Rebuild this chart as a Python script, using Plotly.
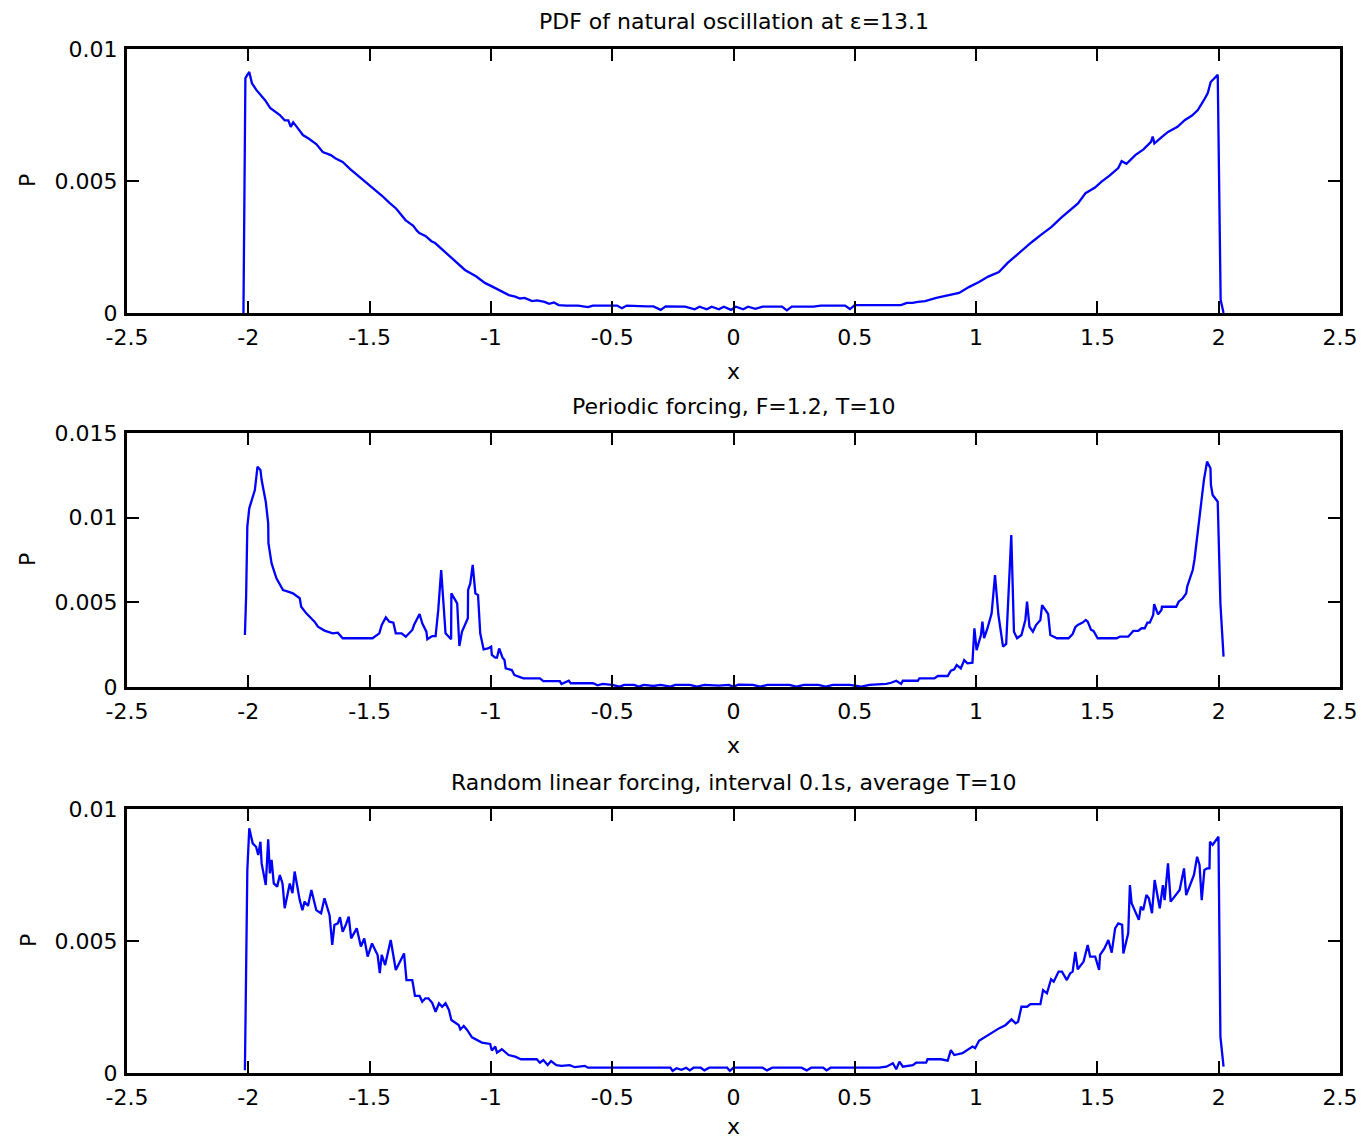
import plotly.graph_objects as go

# ---------------- data (x, P) ----------------
natural_pdf = [
    (-2.020, 0.0), (-2.012, 0.0089), (-1.996, 0.00913), (-1.985, 0.0087), (-1.967, 0.00845),
    (-1.950, 0.00828), (-1.930, 0.00805), (-1.910, 0.00777), (-1.890, 0.00762), (-1.870, 0.0075),
    (-1.850, 0.0073), (-1.835, 0.0073), (-1.825, 0.00705), (-1.815, 0.00722), (-1.800, 0.00705),
    (-1.775, 0.00674), (-1.750, 0.0066), (-1.720, 0.0064), (-1.693, 0.0061), (-1.660, 0.00598),
    (-1.640, 0.00585), (-1.611, 0.00572), (-1.580, 0.00545), (-1.541, 0.00515), (-1.510, 0.00492),
    (-1.488, 0.00473), (-1.450, 0.00445), (-1.418, 0.00417), (-1.390, 0.00395), (-1.352, 0.00352),
    (-1.320, 0.0033), (-1.305, 0.00312), (-1.295, 0.00303), (-1.270, 0.00292), (-1.245, 0.00272),
    (-1.230, 0.00265), (-1.200, 0.0024), (-1.160, 0.00208), (-1.130, 0.00185), (-1.107, 0.00163),
    (-1.060, 0.00138), (-1.025, 0.00114), (-0.990, 0.00098), (-0.960, 0.00085), (-0.926, 0.00068),
    (-0.900, 0.00062), (-0.880, 0.00055), (-0.861, 0.00057), (-0.830, 0.00045), (-0.810, 0.00048),
    (-0.779, 0.00042), (-0.760, 0.00035), (-0.740, 0.0004), (-0.721, 0.0003), (-0.690, 0.00028),
    (-0.640, 0.00028), (-0.600, 0.00022), (-0.580, 0.00028), (-0.520, 0.00028), (-0.480, 0.00028),
    (-0.460, 0.00018), (-0.440, 0.00028), (-0.360, 0.00025), (-0.330, 0.00025), (-0.300, 0.00012),
    (-0.280, 0.00025), (-0.200, 0.00024), (-0.160, 0.00014), (-0.140, 0.00024), (-0.110, 0.00014),
    (-0.090, 0.00024), (-0.060, 0.00014), (-0.040, 0.00024), (-0.010, 0.00012), (0.010, 0.00024),
    (0.040, 0.00014), (0.060, 0.00024), (0.090, 0.00016), (0.120, 0.00024), (0.200, 0.00024),
    (0.220, 0.0001), (0.240, 0.00024), (0.330, 0.00024), (0.360, 0.00028), (0.460, 0.00028),
    (0.480, 0.00015), (0.500, 0.0003), (0.600, 0.0003), (0.650, 0.0003), (0.690, 0.0003),
    (0.715, 0.00038), (0.738, 0.00038), (0.760, 0.00042), (0.790, 0.00045), (0.836, 0.00057),
    (0.880, 0.00065), (0.930, 0.00076), (0.970, 0.00098), (1.012, 0.00117), (1.050, 0.00138),
    (1.094, 0.00155), (1.130, 0.0019), (1.176, 0.00227), (1.200, 0.00245), (1.230, 0.00269),
    (1.270, 0.00298), (1.311, 0.00326), (1.350, 0.0036), (1.381, 0.00383), (1.420, 0.00415),
    (1.451, 0.00454), (1.490, 0.00475), (1.516, 0.00497), (1.550, 0.0052), (1.586, 0.00549),
    (1.600, 0.00575), (1.620, 0.00565), (1.656, 0.00598), (1.690, 0.0062), (1.721, 0.00648),
    (1.728, 0.00668), (1.735, 0.00642), (1.760, 0.00662), (1.791, 0.00686), (1.830, 0.00705),
    (1.861, 0.00731), (1.890, 0.00748), (1.914, 0.00769), (1.940, 0.00808), (1.955, 0.00833),
    (1.967, 0.00875), (1.996, 0.00902), (2.008, 0.0005), (2.020, 0.0),
]

periodic_pdf = [
    (-2.014, 0.00307), (-2.009, 0.00533), (-2.004, 0.00947), (-1.996, 0.01055), (-1.973, 0.01163),
    (-1.962, 0.01301), (-1.950, 0.01282), (-1.945, 0.01222), (-1.928, 0.01094), (-1.918, 0.00967),
    (-1.917, 0.00849), (-1.904, 0.0073), (-1.884, 0.00642), (-1.857, 0.00573), (-1.836, 0.00563),
    (-1.816, 0.00553), (-1.788, 0.00524), (-1.782, 0.00474), (-1.761, 0.00435), (-1.727, 0.00386),
    (-1.713, 0.00356), (-1.686, 0.00333), (-1.652, 0.00317), (-1.631, 0.00321), (-1.611, 0.00288),
    (-1.488, 0.00288), (-1.460, 0.00317), (-1.450, 0.00366), (-1.433, 0.00411), (-1.419, 0.00386),
    (-1.402, 0.0038), (-1.392, 0.00317), (-1.368, 0.00317), (-1.351, 0.00297), (-1.324, 0.00337),
    (-1.317, 0.00366), (-1.294, 0.00431), (-1.283, 0.00376), (-1.266, 0.00327), (-1.262, 0.00282),
    (-1.242, 0.00301), (-1.228, 0.00301), (-1.217, 0.00455), (-1.205, 0.00691), (-1.187, 0.00317),
    (-1.164, 0.00282), (-1.163, 0.00553), (-1.139, 0.00494), (-1.130, 0.00242), (-1.119, 0.00327),
    (-1.095, 0.00406), (-1.094, 0.00573), (-1.085, 0.00612), (-1.075, 0.00721), (-1.064, 0.00553),
    (-1.053, 0.00543), (-1.044, 0.00317), (-1.030, 0.00222), (-1.012, 0.00228), (-0.999, 0.00238),
    (-0.996, 0.00189), (-0.982, 0.00173), (-0.975, 0.00173), (-0.966, 0.00228), (-0.952, 0.00173),
    (-0.944, 0.00159), (-0.939, 0.0011), (-0.914, 0.001), (-0.903, 0.00071), (-0.866, 0.00051),
    (-0.798, 0.00051), (-0.784, 0.00035), (-0.716, 0.00035), (-0.709, 0.00018), (-0.679, 0.00037),
    (-0.671, 0.00022), (-0.579, 0.00022), (-0.560, 0.0001), (-0.540, 0.00018), (-0.500, 0.00012),
    (-0.470, 0.00002), (-0.450, 0.00012), (-0.410, 0.00012), (-0.390, 0.00002), (-0.370, 0.00012),
    (-0.330, 0.00006), (-0.300, 0.00012), (-0.260, 0.00002), (-0.240, 0.00012), (-0.180, 0.00012),
    (-0.150, 0.00002), (-0.120, 0.00012), (-0.060, 0.00008), (-0.020, 0.00012), (0.000, 0.00002),
    (0.020, 0.00014), (0.080, 0.00012), (0.110, 0.00002), (0.140, 0.00012), (0.200, 0.0001),
    (0.230, 0.00012), (0.260, 0.00002), (0.290, 0.00012), (0.350, 0.00012), (0.380, 0.00002),
    (0.410, 0.00012), (0.480, 0.00012), (0.527, 0.00002), (0.560, 0.00012), (0.630, 0.00018),
    (0.650, 0.00025), (0.671, 0.00037), (0.691, 0.00018), (0.698, 0.00037), (0.760, 0.00037),
    (0.766, 0.00051), (0.828, 0.00051), (0.842, 0.00065), (0.883, 0.00065), (0.896, 0.00096),
    (0.910, 0.00104), (0.920, 0.0013), (0.937, 0.0011), (0.951, 0.00159), (0.964, 0.0014),
    (0.985, 0.00144), (0.993, 0.00347), (1.002, 0.00218), (1.020, 0.00307), (1.026, 0.00386),
    (1.033, 0.00288), (1.047, 0.00347), (1.064, 0.00435), (1.078, 0.00661), (1.092, 0.00425),
    (1.111, 0.00238), (1.124, 0.00254), (1.145, 0.00898), (1.156, 0.00327), (1.169, 0.00288),
    (1.187, 0.00307), (1.203, 0.00396), (1.210, 0.00504), (1.220, 0.00356), (1.234, 0.00327),
    (1.247, 0.00366), (1.265, 0.00396), (1.272, 0.00484), (1.297, 0.00431), (1.306, 0.00307),
    (1.316, 0.00301), (1.333, 0.00288), (1.381, 0.00288), (1.398, 0.00313), (1.409, 0.00353),
    (1.419, 0.00366), (1.439, 0.0038), (1.452, 0.00396), (1.460, 0.00386), (1.474, 0.00337),
    (1.484, 0.00331), (1.501, 0.00288), (1.579, 0.00288), (1.593, 0.00297), (1.627, 0.00297),
    (1.648, 0.00331), (1.668, 0.00331), (1.682, 0.00347), (1.695, 0.00347), (1.706, 0.0038),
    (1.716, 0.0038), (1.730, 0.00425), (1.734, 0.0049), (1.750, 0.00429), (1.764, 0.00455),
    (1.766, 0.00474), (1.825, 0.00474), (1.835, 0.00504), (1.852, 0.00524), (1.866, 0.00553),
    (1.870, 0.00592), (1.893, 0.00691), (1.900, 0.0075), (1.917, 0.00947), (1.939, 0.01222),
    (1.952, 0.01331), (1.966, 0.01292), (1.968, 0.01193), (1.975, 0.01134), (1.996, 0.01094),
    (2.007, 0.00494), (2.020, 0.00179),
]

random_pdf = [
    (-2.014, 0.0001), (-2.004, 0.00769), (-1.996, 0.00927), (-1.982, 0.0087), (-1.968, 0.00857),
    (-1.959, 0.00826), (-1.950, 0.00876), (-1.945, 0.00794), (-1.928, 0.00712), (-1.918, 0.00885),
    (-1.911, 0.00756), (-1.904, 0.00807), (-1.895, 0.00718), (-1.881, 0.00706), (-1.870, 0.0075),
    (-1.859, 0.00718), (-1.850, 0.00624), (-1.829, 0.00718), (-1.818, 0.00681), (-1.809, 0.00763),
    (-1.788, 0.00655), (-1.777, 0.00617), (-1.768, 0.00649), (-1.754, 0.00633), (-1.740, 0.00693),
    (-1.720, 0.00617), (-1.700, 0.00605), (-1.686, 0.00662), (-1.665, 0.00598), (-1.654, 0.00485),
    (-1.645, 0.00561), (-1.631, 0.00567), (-1.622, 0.0059), (-1.611, 0.00535), (-1.597, 0.00564),
    (-1.586, 0.00592), (-1.576, 0.0051), (-1.553, 0.00548), (-1.536, 0.00479), (-1.522, 0.0051),
    (-1.508, 0.00441), (-1.490, 0.00491), (-1.467, 0.00447), (-1.458, 0.00378), (-1.450, 0.00447),
    (-1.436, 0.00409), (-1.413, 0.00504), (-1.392, 0.0039), (-1.358, 0.00453), (-1.348, 0.00352),
    (-1.324, 0.00352), (-1.313, 0.00292), (-1.294, 0.00292), (-1.283, 0.0027), (-1.270, 0.00283),
    (-1.258, 0.00283), (-1.242, 0.00266), (-1.228, 0.00232), (-1.214, 0.00264), (-1.201, 0.00251),
    (-1.187, 0.00264), (-1.173, 0.00239), (-1.163, 0.00201), (-1.133, 0.00182), (-1.126, 0.00165),
    (-1.112, 0.00178), (-1.098, 0.00163), (-1.078, 0.00135), (-1.037, 0.00115), (-1.003, 0.0011),
    (-0.996, 0.00085), (-0.982, 0.001), (-0.975, 0.00077), (-0.955, 0.0009), (-0.927, 0.00068),
    (-0.900, 0.00062), (-0.876, 0.00052), (-0.811, 0.00052), (-0.798, 0.00039), (-0.784, 0.00049),
    (-0.766, 0.0003), (-0.752, 0.00045), (-0.730, 0.0003), (-0.709, 0.00027), (-0.675, 0.0003),
    (-0.654, 0.00022), (-0.613, 0.00027), (-0.600, 0.0002), (-0.300, 0.0002), (-0.260, 0.0002),
    (-0.251, 0.00008), (-0.235, 0.00018), (-0.215, 0.00012), (-0.195, 0.0002), (-0.180, 0.0001),
    (-0.165, 0.0002), (-0.135, 0.0002), (-0.120, 0.0001), (-0.100, 0.0002), (-0.026, 0.0002),
    (-0.015, 0.00008), (0.000, 0.0002), (0.120, 0.0002), (0.138, 0.0001), (0.160, 0.0002),
    (0.280, 0.0002), (0.302, 0.0001), (0.320, 0.0002), (0.370, 0.0002), (0.384, 0.0001),
    (0.400, 0.0002), (0.600, 0.0002), (0.630, 0.00024), (0.657, 0.00037), (0.671, 0.00014),
    (0.684, 0.00043), (0.698, 0.00024), (0.739, 0.0003), (0.753, 0.00039), (0.794, 0.00039),
    (0.800, 0.00052), (0.855, 0.00052), (0.883, 0.00047), (0.896, 0.00087), (0.910, 0.00068),
    (0.944, 0.00075), (0.985, 0.001), (0.996, 0.00094), (1.012, 0.00122), (1.050, 0.00145),
    (1.094, 0.00169), (1.122, 0.00182), (1.146, 0.00203), (1.163, 0.00188), (1.173, 0.00194),
    (1.187, 0.00251), (1.210, 0.00251), (1.224, 0.00261), (1.265, 0.00261), (1.276, 0.00314),
    (1.292, 0.00302), (1.309, 0.00355), (1.320, 0.00346), (1.340, 0.00384), (1.354, 0.00384),
    (1.374, 0.00352), (1.388, 0.00378), (1.398, 0.00384), (1.409, 0.00459), (1.419, 0.00393),
    (1.443, 0.00422), (1.460, 0.00485), (1.470, 0.00441), (1.491, 0.00441), (1.507, 0.0039),
    (1.511, 0.00447), (1.529, 0.00472), (1.545, 0.00504), (1.559, 0.00456), (1.573, 0.00548),
    (1.586, 0.00567), (1.602, 0.00561), (1.607, 0.00453), (1.627, 0.00529), (1.634, 0.00712),
    (1.641, 0.00643), (1.657, 0.00611), (1.671, 0.0058), (1.679, 0.0063), (1.689, 0.00617),
    (1.702, 0.00674), (1.712, 0.00662), (1.725, 0.00605), (1.736, 0.00731), (1.757, 0.00624),
    (1.770, 0.00712), (1.777, 0.00655), (1.791, 0.00794), (1.802, 0.00649), (1.825, 0.00674),
    (1.839, 0.00693), (1.857, 0.00775), (1.866, 0.00674), (1.898, 0.0075), (1.911, 0.00819),
    (1.921, 0.00788), (1.930, 0.00655), (1.941, 0.00769), (1.952, 0.00775), (1.962, 0.00775),
    (1.964, 0.00876), (1.975, 0.00864), (1.999, 0.00895), (2.007, 0.00138), (2.020, 0.00024),
]

titles = [
    "PDF of natural oscillation at \u03b5=13.1",
    "Periodic forcing, F=1.2, T=10",
    "Random linear forcing, interval 0.1s, average T=10",
]
x_ticks = [-2.5, -2, -1.5, -1, -0.5, 0, 0.5, 1, 1.5, 2, 2.5]
x_tick_labels = ["-2.5", "-2", "-1.5", "-1", "-0.5", "0", "0.5", "1", "1.5", "2", "2.5"]
y_ticks_small = [0, 0.005, 0.01]
y_tick_labels_small = ["0", "0.005", "0.01"]
y_ticks_big = [0, 0.005, 0.01, 0.015]
y_tick_labels_big = ["0", "0.005", "0.01", "0.015"]

# ---------------- figure ----------------
W, H = 1365, 1142
FONT = "DejaVu Sans, Liberation Sans, Arial, sans-serif"
FS = 22

fig = go.Figure()
series = [natural_pdf, periodic_pdf, random_pdf]
for i, s in enumerate(series):
    xs = [p[0] for p in s]
    ys = [p[1] for p in s]
    sfx = "" if i == 0 else str(i + 1)
    fig.add_trace(go.Scatter(x=xs, y=ys, mode="lines",
                             line=dict(color="#0000ff", width=2.3),
                             xaxis="x" + sfx, yaxis="y" + sfx,
                             showlegend=False, hoverinfo="x+y"))

# pixel boxes (top, bottom) of each axes
boxes = [(49, 313), (433, 687), (809, 1073)]
xlabel_gap = [58, 58, 53]
xl, xr = 127, 1340
ranges = [[0, 0.01], [0, 0.015], [0, 0.01]]
yt = [(y_ticks_small, y_tick_labels_small), (y_ticks_big, y_tick_labels_big),
      (y_ticks_small, y_tick_labels_small)]

common = dict(showline=True, linecolor="black", linewidth=3, mirror="ticks",
              ticks="inside", ticklen=12, tickwidth=2, tickcolor="black",
              showgrid=False, zeroline=False, automargin=False,
              tickfont=dict(family=FONT, size=FS, color="black"))

layout = dict(template="none", width=W, height=H, autosize=False,
              margin=dict(l=0, r=0, t=0, b=0, pad=0, autoexpand=False),
              paper_bgcolor="white", plot_bgcolor="white", showlegend=False)
annotations = []
for i, (top, bot) in enumerate(boxes):
    sfx = "" if i == 0 else str(i + 1)
    layout["xaxis" + sfx] = dict(common, domain=[xl / W, xr / W], range=[-2.5, 2.5],
                                 tickvals=x_ticks, ticktext=x_tick_labels,
                                 ticklabelstandoff=3, anchor="y" + sfx)
    layout["yaxis" + sfx] = dict(common, domain=[1 - bot / H, 1 - top / H], range=ranges[i],
                                 tickvals=yt[i][0], ticktext=yt[i][1],
                                 ticklabelstandoff=2, anchor="x" + sfx)
    cx = (xl + xr) / 2 / W
    annotations.append(dict(text=titles[i], x=cx, y=1 - (top - 27) / H, xref="paper", yref="paper",
                            showarrow=False, xanchor="center", yanchor="middle",
                            font=dict(family=FONT, size=FS, color="black")))
    annotations.append(dict(text="x", x=cx, y=1 - (bot + xlabel_gap[i]) / H, xref="paper", yref="paper",
                            showarrow=False, xanchor="center", yanchor="middle",
                            font=dict(family=FONT, size=FS, color="black")))
    annotations.append(dict(text="P", x=28 / W, y=1 - (top + bot) / 2 / H, xref="paper", yref="paper",
                            showarrow=False, xanchor="center", yanchor="middle", textangle=-90,
                            font=dict(family=FONT, size=FS, color="black")))
layout["annotations"] = annotations
fig.update_layout(**layout)
fig.write_html("out.html",
               post_script="document.body.style.margin='0px';"
                           "document.body.style.overflow='hidden';")
